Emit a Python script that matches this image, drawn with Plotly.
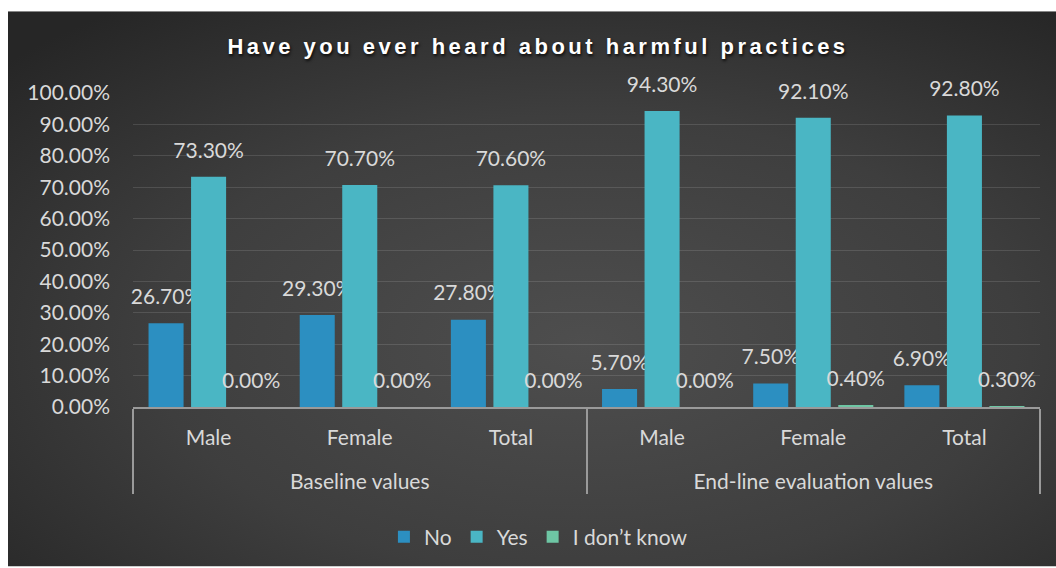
import base64
import plotly.graph_objects as go

groups = ["Baseline values"] * 3 + ["End-line evaluation values"] * 3
categories = ["Male", "Female", "Total", "Male", "Female", "Total"]
no_vals = [0.267, 0.293, 0.278, 0.057, 0.075, 0.069]
yes_vals = [0.733, 0.707, 0.706, 0.943, 0.921, 0.928]
idk_vals = [0.0, 0.0, 0.0, 0.0, 0.004, 0.003]
series_names = ["No", "Yes", "I don’t know"]
series_colors = ["#2c8fc1", "#4ab6c4", "#6ec6a4"]

FONT = "Lato, 'Open Sans', sans-serif"
TXT = "#d9d9d9"
FS = 21

W, H = 1056, 568
L, R, T, B = 133, 16, 93, 160
pw, ph = W - L - R, H - T - B

svg = f'''<svg xmlns="http://www.w3.org/2000/svg" width="{W}" height="{H}" viewBox="0 0 {W} {H}" preserveAspectRatio="none">
<defs><radialGradient id="g" cx="55%" cy="60%" r="75%">
<stop offset="0" stop-color="#4e4e4e"/><stop offset="0.55" stop-color="#3e3e3e"/><stop offset="1" stop-color="#262626"/>
</radialGradient></defs>
<rect width="{W}" height="{H}" fill="url(#g)"/></svg>'''
bg_uri = "data:image/svg+xml;base64," + base64.b64encode(svg.encode()).decode()

# x labels: group label on second line so it sits lower, like the reference
group_labels = ["<br>" + g for g in groups]

# value label: full-size value plus a short blank line below to lift it off the bar
label_tpl = "<span style='font-size:%dpx'>%%{y:.2%%}</span><br>\u00a0" % FS

fig = go.Figure()
x = [group_labels, categories]
for name, vals, col in zip(series_names, [no_vals, yes_vals, idk_vals], series_colors):
    fig.add_trace(go.Bar(
        x=x, y=vals, name=name,
        marker=dict(color=col, line=dict(width=0)),
        texttemplate=label_tpl, textposition="outside", constraintext="none",
        textfont=dict(color=TXT, size=11, family=FONT),
        cliponaxis=False,
    ))


def px_x(p):
    return (p - L) / pw


def px_y(p):
    return (H - B - p) / ph


fig.add_layout_image(dict(
    source=bg_uri, xref="paper", yref="paper",
    x=px_x(8), y=px_y(11), sizex=px_x(W) - px_x(8), sizey=px_y(11) - px_y(H),
    xanchor="left", yanchor="top", sizing="stretch", layer="below",
))

fig.update_layout(
    width=W, height=H,
    margin=dict(l=L, r=R, t=T, b=B),
    paper_bgcolor="white", plot_bgcolor="rgba(0,0,0,0)",
    barmode="group", bargap=0.156, bargroupgap=0.176,
    title=dict(
        text="Have you ever heard about harmful practices",
        x=538 / W, xref="container", xanchor="center", y=1 - 46 / H, yanchor="middle",
        font=dict(family="'Liberation Sans', Arial, sans-serif", size=22, color="white",
                  weight="bold", shadow="1px 2px 3px rgba(0,0,0,0.8)"),
    ),
    legend=dict(
        orientation="h", x=0.447, xanchor="center", y=px_y(537), yanchor="middle",
        font=dict(family=FONT, size=FS, color=TXT), bgcolor="rgba(0,0,0,0)",
        itemwidth=30, traceorder="normal",
    ),
)
fig.update_yaxes(
    range=[0, 1], dtick=0.1, tickformat=".2%",
    tickfont=dict(family=FONT, size=FS, color=TXT),
    gridcolor="rgba(255,255,255,0.12)", gridwidth=1,
    zeroline=False, showline=False, ticks="", ticklabelstandoff=22,
)
fig.update_xaxes(
    type="multicategory",
    tickfont=dict(family=FONT, size=FS, color=TXT),
    showline=True, linecolor="#9a9a9a", linewidth=2,
    showdividers=True, dividercolor="#9a9a9a", dividerwidth=2,
    ticks="", showgrid=False, ticklabelstandoff=11,
)

post = """
document.body.style.margin = '0';
document.documentElement.style.overflow = 'hidden';
var t = document.querySelector('.gtitle');
if (t) { t.style.letterSpacing = '3.5px'; }
"""
fig.write_html("out.html", post_script=post, config={"displayModeBar": False})
